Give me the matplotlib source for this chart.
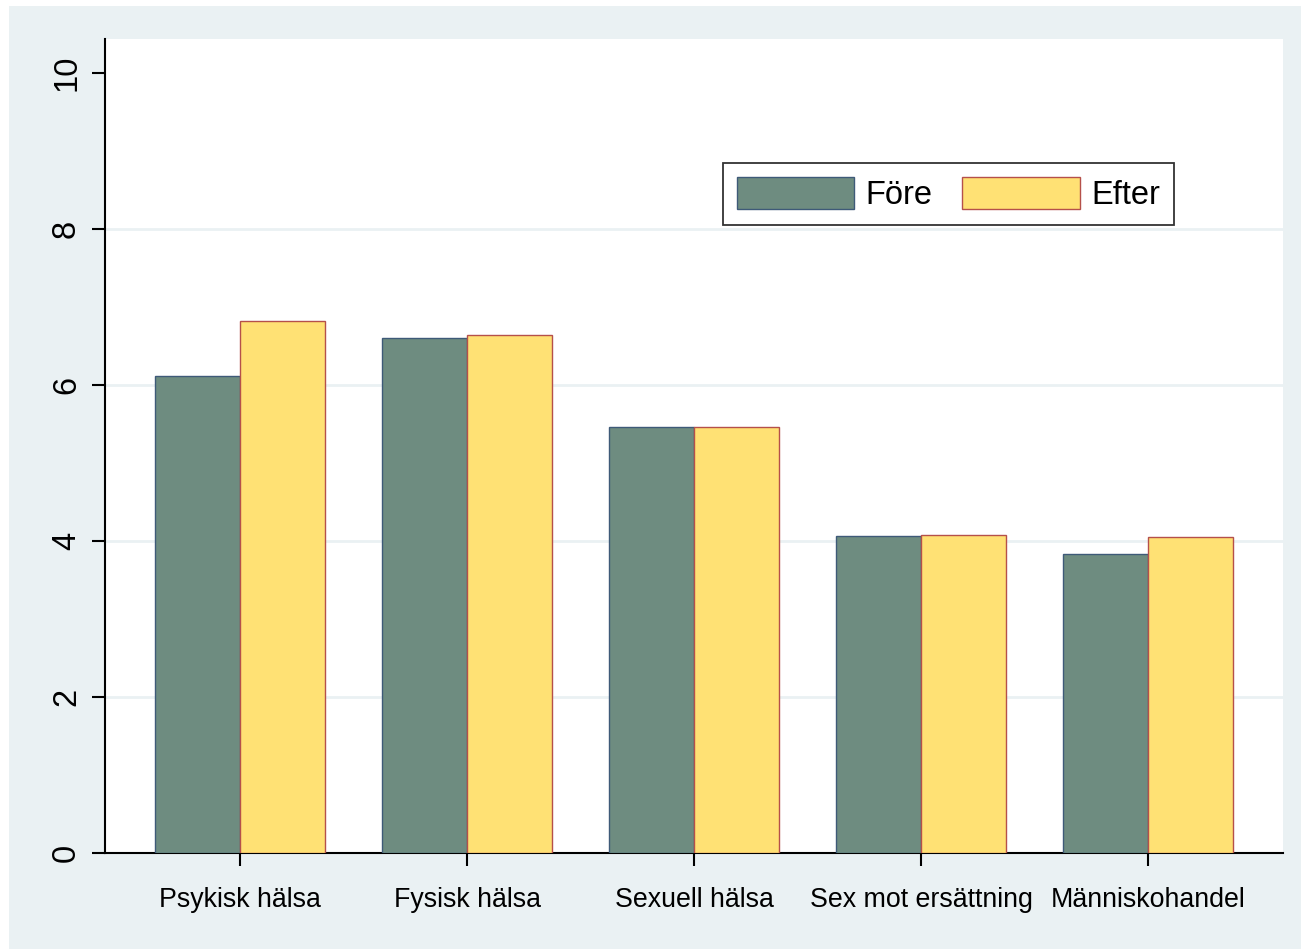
import matplotlib
matplotlib.use("Agg")
import matplotlib.pyplot as plt
import numpy as np
from matplotlib.patches import Rectangle

categories = ["Psykisk hälsa", "Fysisk hälsa", "Sexuell hälsa", "Sex mot ersättning", "Människohandel"]
fore = [6.12, 6.60, 5.47, 4.07, 3.83]
efter = [6.82, 6.65, 5.46, 4.08, 4.05]
series_labels = ["Före", "Efter"]
yticks = [0, 2, 4, 6, 8, 10]

plt.rcParams['font.family'] = ['Liberation Sans', 'DejaVu Sans']

W, H = 1301, 949
fig = plt.figure(figsize=(W / 100, H / 100), dpi=100)
fig.patch.set_facecolor("white")
bg = "#EAF1F3"
fig.add_artist(Rectangle((9 / W, 0), 1 - 9 / W, 1 - 6 / H, transform=fig.transFigure,
                         facecolor=bg, edgecolor="none", zorder=0))

ax = fig.add_axes([105 / W, (H - 853) / H, (1283 - 105) / W, (853 - 39) / H])
ax.set_facecolor("white")

x = np.arange(len(categories))
w = 0.374
ax.bar(x - w / 2, fore, width=w, color="#6E8C80", edgecolor="#3E5A78", linewidth=1.0,
       label=series_labels[0], zorder=3)
ax.bar(x + w / 2, efter, width=w, color="#FFE174", edgecolor="#B5504A", linewidth=1.0,
       label=series_labels[1], zorder=3)

ax.set_xlim(-0.595, 4.595)
ax.set_ylim(0, 10.44)
ax.set_yticks(yticks)
ax.set_yticklabels([str(t) for t in yticks], rotation=90, va="center", fontsize=23.5)
ax.set_xticks(x)
ax.set_xticklabels(categories, fontsize=19.3)

for t in [2, 4, 6, 8]:
    ax.axhline(t, color=bg, linewidth=2, zorder=1)

for s in ["top", "right"]:
    ax.spines[s].set_visible(False)
for s in ["left", "bottom"]:
    ax.spines[s].set_linewidth(1.5)
    ax.spines[s].set_color("black")

ax.tick_params(axis="y", length=9.5, width=1.5, pad=7)
ax.tick_params(axis="x", length=9.5, width=1.5, pad=15)

leg = ax.legend(loc="upper left", bbox_to_anchor=((723 - 105) / (1283 - 105), 1 - (163 - 39) / (853 - 39)),
                ncol=2, fontsize=23.5, frameon=True, fancybox=False, edgecolor="black",
                handlelength=3.6, handleheight=1.15, handletextpad=0.35, columnspacing=0.9,
                borderpad=0.42, borderaxespad=0)
leg.get_frame().set_linewidth(1.3)

fig.savefig("out.png", dpi=100)
